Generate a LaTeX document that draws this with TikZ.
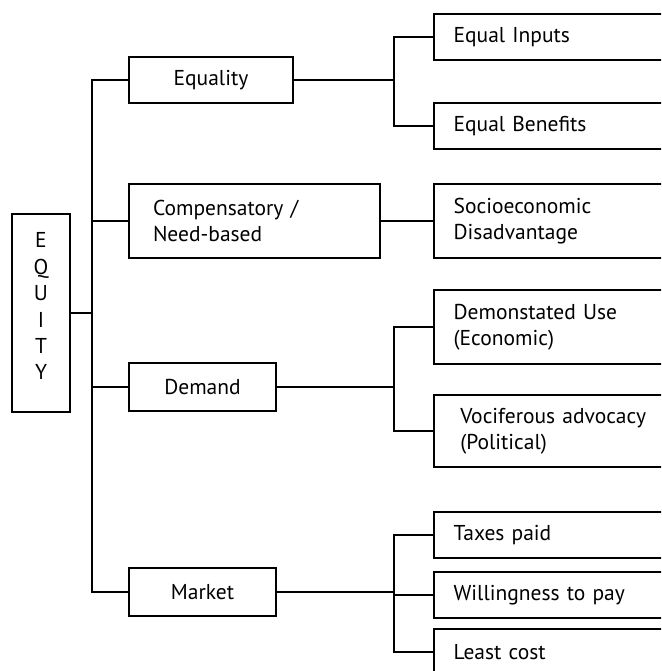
\documentclass[tikz,border=0pt]{standalone}
\usepackage{fontspec}
\setmainfont{PT Sans}
\begin{document}
\begin{tikzpicture}[x=1pt,y=-1pt,
  line width=1.9pt,
  every node/.style={font=\fontsize{21.5}{26.4}\selectfont},
  lbox/.style={draw, inner sep=0pt, align=center},
  rbox/.style={draw, anchor=west, inner ysep=0pt, inner xsep=19.7pt,
               minimum width=270pt, text width=230.6pt, align=left},
]
\clip (0,0) rectangle (661,671);
\useasboundingbox (0,0) rectangle (661,671);

% root
\node[lbox, minimum width=58pt, minimum height=197.4pt] (equity) at (41,313)
  {E\\Q\\U\\I\\T\\Y\rule[-13.4pt]{0pt}{0pt}};

% first level
\node[lbox, minimum width=163.7pt, minimum height=46pt] (eq) at (211,80) {Equality};
\node[lbox, minimum width=251pt, minimum height=74.4pt, text width=203pt, align=left]
  (comp) at (254.5,221) {Compensatory /\\Need-based};
\node[lbox, minimum width=147pt, minimum height=48.7pt] (demand) at (202.5,387) {Demand};
\node[lbox, minimum width=147pt, minimum height=48.7pt] (market) at (202.5,592) {Market};

% second level
\node[rbox, minimum height=46pt] (inputs) at (433,37) {Equal Inputs};
\node[rbox, minimum height=45.7pt] (benefits) at (433,126) {Equal Benefits};
\node[rbox, minimum height=74.4pt] (socio) at (433,221) {Socioeconomic\\Disadvantage};
\node[rbox, minimum height=73.3pt] (demo) at (433,327) {Demonstated Use\\(Economic)};
\node[rbox, minimum height=72.3pt, inner xsep=26.3pt, text width=217.4pt]
  (voc) at (433,431) {Vociferous advocacy\\(Political)};
\node[rbox, minimum height=46pt] (taxes) at (433,535) {Taxes paid};
\node[rbox, minimum height=46pt] (will) at (433,595) {Willingness to pay};
\node[rbox, minimum height=46pt] (least) at (433,652) {Least cost};

% branch lines
\coordinate (trunk) at (92,0);
\coordinate (bx) at (394,0);

\draw (eq.west) -- (eq.west -| trunk) -- (market.west -| trunk) -- (market.west);
\draw (comp.west) -- (comp.west -| trunk);
\draw (demand.west) -- (demand.west -| trunk);
\draw (equity.east) -- (equity.east -| trunk);

\draw (eq.east) -- (eq.east -| bx);
\draw (inputs.west) -- (inputs.west -| bx) -- (benefits.west -| bx) -- (benefits.west);

\draw (comp.east) -- (socio.west);

\draw (demand.east) -- (demand.east -| bx);
\draw (demo.west) -- (demo.west -| bx) -- (voc.west -| bx) -- (voc.west);

\draw (market.east) -- (market.east -| bx);
\draw (taxes.west) -- (taxes.west -| bx) -- (least.west -| bx) -- (least.west);
\draw (will.west) -- (will.west -| bx);
\end{tikzpicture}
\end{document}
